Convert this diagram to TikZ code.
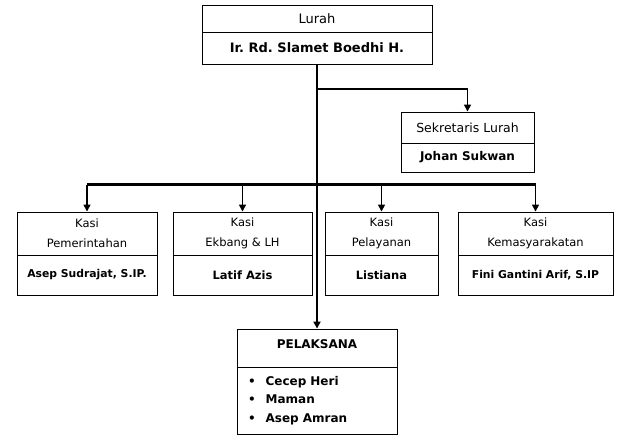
\documentclass[tikz,border=0pt]{standalone}
\usepackage{fontspec}
\setmainfont{DejaVu Sans}
\usetikzlibrary{arrows.meta}
\frenchspacing
\tikzset{ unit_box/.style = {rectangle, draw, line width=0.9pt, inner sep=0pt, align=center} }
\tikzset{ name_box/.style = {unit_box, font=\bfseries\fontsize{#1}{14}\selectfont} }
\tikzset{ link/.style = {line width=1.5pt, -{Triangle[width=7pt,length=7pt]}} }

\begin{document}
\begin{tikzpicture}[x=1pt, y=-1pt]
                \useasboundingbox (0,0) rectangle (627,441);
                % kepala
                \node [unit_box, minimum width=230pt, minimum height=27pt, font=\fontsize{13}{15}\selectfont] (lurahT) at (317,18.5) {Lurah};
                \node [name_box=13, minimum width=230pt, minimum height=32pt] (lurahN) at (317,48) {Ir. Rd. Slamet Boedhi H.};
                \node [unit_box, minimum width=133pt, minimum height=31pt, font=\fontsize{12.5}{15}\selectfont] (sekT) at (467.5,127.5) {Sekretaris Lurah};
                \node [name_box=12, minimum width=133pt, minimum height=29pt] (sekN) at (467.5,157.5) {Johan Sukwan};
                % kasi
                \tikzset{ kasi_box/.style = {unit_box, minimum width=#1, minimum height=43pt, font=\fontsize{11.5}{20}\selectfont} }
                \node [kasi_box=140pt] (k1T) at (87,233.5) {Kasi\\Pemerintahan};
                \node [kasi_box=139pt] (k2T) at (242.5,233.5) {Kasi\\Ekbang \& LH};
                \node [kasi_box=113pt] (k3T) at (381.5,233.5) {Kasi\\Pelayanan};
                \node [kasi_box=155pt] (k4T) at (535.5,233.5) {Kasi\\Kemasyarakatan};
                \node [name_box=10.8, minimum width=140pt, minimum height=40pt] (k1N) at (87,275) {Asep Sudrajat, S.IP.};
                \node [name_box=11.5, minimum width=139pt, minimum height=40pt, text depth=-2pt] (k2N) at (242.5,275) {Latif Azis};
                \node [name_box=11.5, minimum width=113pt, minimum height=40pt, text depth=-2pt] (k3N) at (381.5,275) {Listiana};
                \node [name_box=10.8, minimum width=155pt, minimum height=40pt] (k4N) at (535.5,275) {Fini Gantini Arif, S.IP};
                % pelaksana
                \node [name_box=12, minimum width=160pt, minimum height=38pt, text depth=8pt] (pelT) at (317,348) {PELAKSANA};
                \node [unit_box, minimum width=160pt, minimum height=67pt, text width=148pt, align=left,
                        font=\bfseries\fontsize{12}{18.5}\selectfont] (pelN) at (317,400.5)
                        {\hspace*{5pt}\textbullet\hspace{10pt}Cecep Heri\\
                         \hspace*{5pt}\textbullet\hspace{10pt}Maman\\
                         \hspace*{5pt}\textbullet\hspace{10pt}Asep Amran};
                % garis
                \coordinate (fork) at (317,89);
                \coordinate (bus) at (317,185);
                \draw[link, line width=2pt] (lurahN.south) to (pelT.north);
                \draw[link] (fork) -| (sekT.north);
                \draw[line width=3pt] (bus -| k1T.north) to (bus -| k4T.north);
                \foreach \k in {k1,k2,k3,k4}
                        \draw[link] (bus -| \k T.north) to (\k T.north);
        \end{tikzpicture}
\end{document}
